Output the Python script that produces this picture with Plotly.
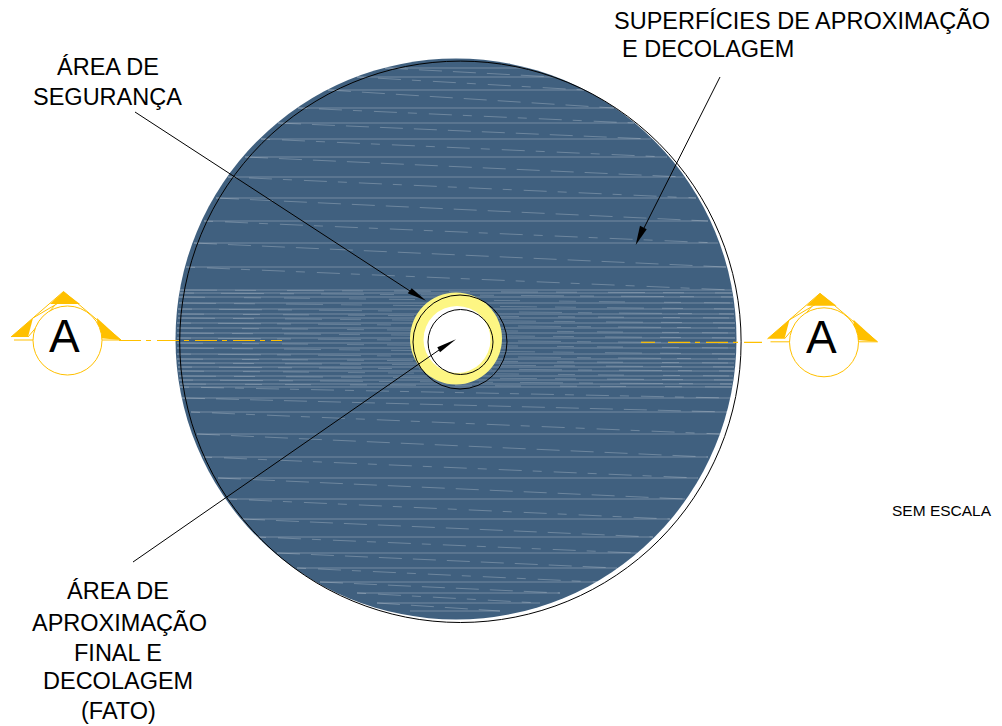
import plotly.graph_objects as go

# Hatch lines of the disc
hatch_y = [68, 77, 90, 108, 123, 139, 157, 177, 198, 221, 243, 267,
           290, 293, 297, 303, 309, 314, 318, 323, 328, 333, 338, 343, 348,
           354, 359, 363, 367, 371, 376, 380, 384, 387, 398,
           412, 434, 457, 478, 499, 519, 537, 553, 568, 582, 593, 603, 611]
hatch_left = [385, 357, 328, 298, 278, 261, 245, 228, 216, 204, 194, 186,
              180, 180, 179, 179, 178, 178, 178, 177, 177, 177, 177, 177, 177,
              177, 177, 178, 178, 178, 179, 179, 180, 180, 182,
              191, 197, 203, 218, 228, 242, 257, 277, 297, 320, 357, 377, 410]
hatch_right = [527, 555, 584, 614, 634, 651, 667, 684, 696, 708, 718, 726,
               732, 732, 733, 733, 734, 734, 734, 735, 735, 735, 735, 735, 735,
               735, 735, 734, 734, 734, 733, 733, 732, 732, 730,
               727, 720, 708, 698, 685, 670, 653, 637, 617, 597, 560, 540, 500]

labels = ["SUPERFÍCIES DE APROXIMAÇÃO", "E DECOLAGEM", "ÁREA DE", "SEGURANÇA",
          "ÁREA DE", "APROXIMAÇÃO", "FINAL E", "DECOLAGEM", "(FATO)", "SEM ESCALA"]
label_x = [612, 620, 108, 107, 118, 119, 118, 118, 118, 890]
label_y = [21, 49, 67, 97, 591, 623, 653, 681, 711, 510]
label_anchor = ["left", "left", "center", "center", "center", "center", "center", "center", "center", "left"]
label_size = [23.5, 23.5, 23.5, 23.5, 23.5, 23.5, 23.5, 23.5, 23.5, 15.5]

BLUE = "#40607F"
GOLD = "#FFC000"
YELLOW = "#FDF683"

long_x, long_y = [], []
row_sets = {"outer_a": ([], []), "outer_b": ([], []), "mid_a": ([], []), "mid_b": ([], []), "mid_c": ([], [])}
for i, y in enumerate(hatch_y):
    long_x += [hatch_left[i], hatch_right[i], None]
    long_y += [y, y, None]
    if i + 1 < len(hatch_y):
        if 290 <= y < 387:
            key = ["mid_a", "mid_b", "mid_c"][i % 3]
        else:
            key = ["outer_a", "outer_b"][i % 2]
        row_sets[key][0].extend([hatch_left[i], hatch_right[i + 1], None])
        row_sets[key][1].extend([y, hatch_y[i + 1], None])

row_styles = {
    "outer_a": ("rgba(255,255,255,0.24)", "23px,11px"),
    "outer_b": ("rgba(255,255,255,0.24)", "9px,12px,23px,11px"),
    "mid_a": ("rgba(255,255,255,0.20)", "37px,18px,21px,31px"),
    "mid_b": ("rgba(255,255,255,0.20)", "14px,27px,43px,16px"),
    "mid_c": ("rgba(255,255,255,0.20)", "26px,39px,17px,23px"),
}

fig = go.Figure()
fig.add_trace(go.Scatter(x=long_x, y=long_y, mode="lines", hoverinfo="skip",
                         line=dict(color="rgba(255,255,255,0.28)", width=1)))
for key, (xs, ys) in row_sets.items():
    color, dash = row_styles[key]
    fig.add_trace(go.Scatter(x=xs, y=ys, mode="lines", hoverinfo="skip",
                             line=dict(color=color, width=1, dash=dash)))


def circle(cx, cy, r, fill=None, line=None, width=1, layer="above"):
    return dict(type="circle", xref="x", yref="y", x0=cx - r, x1=cx + r, y0=cy - r, y1=cy + r,
                fillcolor=fill or "rgba(0,0,0,0)", layer=layer,
                line=dict(color=line or "rgba(0,0,0,0)", width=width if line else 0))


def seg(x0, y0, x1, y1, color="black", width=1, dash=None):
    return dict(type="line", xref="x", yref="y", x0=x0, y0=y0, x1=x1, y1=y1, layer="above",
                line=dict(color=color, width=width, dash=dash or "solid"))


def poly(pts, fill):
    path = "M" + " L".join(f"{x},{y}" for x, y in pts) + " Z"
    return dict(type="path", xref="x", yref="y", path=path, fillcolor=fill, layer="above", line=dict(width=0))


def marker(dx, dy):
    p = lambda pts: [(x + dx, y + dy) for x, y in pts]
    return [
        poly(p([(50, 304), (63.5, 291.5), (80, 304)]), GOLD),
        poly(p([(11, 337), (33, 318), (28, 337)]), GOLD),
        poly(p([(97, 318), (121, 340), (98, 338)]), GOLD),
        seg(11 + dx, 337 + dy, 63.5 + dx, 291.5 + dy, GOLD),
        seg(63.5 + dx, 291.5 + dy, 121 + dx, 340 + dy, GOLD),
        seg(28 + dx, 337 + dy, 55 + dx, 305 + dy, GOLD),
        seg(33 + dx, 318 + dy, 60 + dx, 302 + dy, GOLD),
        seg(14 + dx, 340 + dy, 121 + dx, 340 + dy, GOLD),
        circle(67.5 + dx, 340.5 + dy, 34.5, fill="white", line=GOLD),
    ]


shapes = [
    circle(456, 339, 280.5, fill=BLUE, layer="below"),
    circle(460.4, 341.8, 280.7, line="black"),
    circle(456, 338.5, 46, fill=YELLOW),
    circle(457, 339.5, 33.5, fill="white"),
    circle(460, 342, 47, line="black"),
    circle(460.5, 342, 32.5, line="black"),
    seg(135, 112, 410, 291),
    poly([(411.7, 288.3), (407.7, 293.3), (426, 300.7)], "black"),
    seg(133, 562, 439, 350),
    poly([(437.3, 347.3), (440, 352.3), (456, 339.3)], "black"),
    seg(720, 77, 644, 228),
    poly([(640, 225.7), (646.7, 229.3), (635.7, 245)], "black"),
    seg(119, 340.5, 282, 340.5, GOLD, 1.2, "22px,5px,5px,6px"),
    seg(641, 342.3, 655, 342.3, GOLD, 1.2),
    seg(668, 342.3, 762, 342.3, GOLD, 1.2, "22px,5px,5px,6px"),
] + marker(0, 0) + marker(756.5, 1.8)

annotations = [
    dict(x=x, y=y, text=t, xref="x", yref="y", showarrow=False, xanchor=a, yanchor="middle",
         font=dict(family="Liberation Sans", size=s, color="black"))
    for t, x, y, a, s in zip(labels, label_x, label_y, label_anchor, label_size)
]
for x, y in [(64, 336), (821.7, 337)]:
    annotations.append(dict(x=x, y=y, text="A", xref="x", yref="y", showarrow=False,
                            xanchor="center", yanchor="middle",
                            font=dict(family="Liberation Sans", size=46, color="black")))

fig.update_layout(
    width=1002, height=726, margin=dict(l=0, r=0, t=0, b=0),
    paper_bgcolor="white", plot_bgcolor="white", showlegend=False,
    xaxis=dict(range=[0, 1002], visible=False, fixedrange=True),
    yaxis=dict(range=[726, 0], visible=False, fixedrange=True),
    shapes=shapes, annotations=annotations,
)
fig.write_html("out.html", config=dict(displayModeBar=False),
               post_script="document.body.style.margin='0';")
